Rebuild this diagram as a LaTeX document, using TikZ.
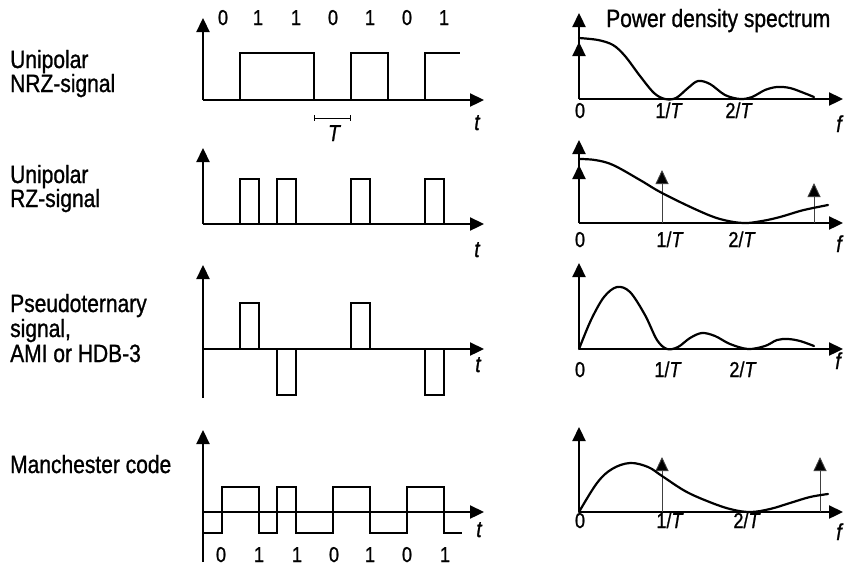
\documentclass[tikz,border=0pt]{standalone}
\usepackage{fontspec}
\setmainfont{Liberation Sans}[FakeStretch=0.84,FakeBold=1]
\usetikzlibrary{arrows.meta}
\begin{document}
\begin{tikzpicture}[x=1pt,y=-1pt,
  ax/.style={line width=2.3pt,-{Triangle[width=13pt,length=14pt]}},
  sig/.style={line width=2pt,line join=miter},
  dl/.style={line width=0.9pt,draw=black!75,-{Triangle[width=13pt,length=14pt,fill=black]}},
  psd/.style={line width=2.2pt,line cap=round},
  lbl/.style={font=\fontsize{25}{26}\selectfont,anchor=base west,inner sep=0pt},
  num/.style={font=\fontsize{21.5}{22}\selectfont,anchor=base,inner sep=0pt},
  var/.style={font=\fontsize{23}{24}\selectfont\itshape,anchor=base,inner sep=0pt}]
\useasboundingbox (0,0) rectangle (848,566);

% ---------- left labels ----------
\node[lbl] (l1a) at (10,68) {Unipolar};
\node[lbl] (l1b) at (10,92) {NRZ-signal};
\node[lbl] (l2a) at (10,183) {Unipolar};
\node[lbl] (l2b) at (10,207) {RZ-signal};
\node[lbl] (l3a) at (10,312) {Pseudoternary};
\node[lbl] (l3b) at (10,337) {signal,};
\node[lbl] (l3c) at (10,362) {AMI or HDB-3};
\node[lbl] (l4a) at (10,473) {Manchester code};
\node[lbl] (pds) at (606,27) {Power density spectrum};

% ---------- row 1: NRZ ----------
\draw[ax] (203,100) -- (203,18);
\draw[ax] (203,100) -- (484,100);
\draw[sig] (240,100) -- (240,53) -- (314,53) -- (314,100);
\draw[sig] (351,100) -- (351,53) -- (388,53) -- (388,100);
\draw[sig] (425,100) -- (425,53) -- (460,53);
\foreach \x/\b [count=\i] in {223/0,258/1,296/1,333/0,370/1,407/0,444/1}
  \node[num] (b\i) at (\x,25) {\b};
\draw[line width=1pt] (314,115) -- (314,121) (314,118) -- (350,118) (350,115) -- (350,121);
\node[var] (Tm) at (334,141) {T};
\node[var] (t1) at (477,130) {t};

% ---------- row 2: RZ ----------
\draw[ax] (203,224) -- (203,148);
\draw[ax] (203,224) -- (484,224);
\foreach \x in {240,277,351,425}
  \draw[sig] (\x,224) -- (\x,179) -- (\x+19,179) -- (\x+19,224);
\node[var] (t2) at (477,257) {t};

% ---------- row 3: AMI ----------
\draw[ax] (203,398) -- (203,265);
\draw[ax] (203,349) -- (484,349);
\draw[sig] (240,349) -- (240,303) -- (259,303) -- (259,349);
\draw[sig] (277,349) -- (277,395) -- (296,395) -- (296,349);
\draw[sig] (351,349) -- (351,303) -- (370,303) -- (370,349);
\draw[sig] (425,349) -- (425,395) -- (444,395) -- (444,349);
\node[var] (t3) at (478,372) {t};

% ---------- row 4: Manchester ----------
\draw[ax] (203,562) -- (203,430);
\draw[ax] (203,512) -- (484,512);
\draw[sig] (203,533) -- (221.5,533) -- (221.5,487) -- (258.5,487) -- (258.5,533)
  -- (277,533) -- (277,487) -- (295.5,487) -- (295.5,533) -- (332.5,533)
  -- (332.5,487) -- (369.5,487) -- (369.5,533) -- (406.5,533) -- (406.5,487)
  -- (443.5,487) -- (443.5,533) -- (462,533);
\foreach \x/\b [count=\i] in {221/0,259/1,297/1,334/0,370/1,407/0,445/1}
  \node[num] (c\i) at (\x,562) {\b};
\node[var] (t4) at (479,537) {t};

% ---------- spectra ----------
% row 1
\draw[ax] (579,99) -- (579,13);
\draw[ax] (579,99) -- (843,99);
\draw[dl,line width=2.3pt,draw=black] (579,99) -- (579,42);
\draw[psd] plot[smooth,tension=0.55] coordinates {(579,38) (598,40) (613,45) (625,56) (640,76) (654,93) (665,99) (676,98) (688,88) (698,81) (710,84) (725,95) (740,99) (752,97) (765,90) (777,87) (790,88) (804,93) (814,97)};
\node[num] (s1a) at (580,118) {0};
\node[num] (s1b) at (669,118) {1/\textit{T}};
\node[num] (s1c) at (739,118) {2/\textit{T}};
\node[var] (f1) at (839,132) {f};

% row 2
\draw[ax] (579,223) -- (579,140);
\draw[ax] (579,223) -- (843,223);
\draw[dl,line width=2.3pt,draw=black] (579,223) -- (579,165);
\draw[dl] (662,223) -- (662,170);
\draw[dl] (814,223) -- (814,183);
\draw[psd] plot[smooth,tension=0.6] coordinates {(579,159) (595,160) (613,165) (640,180) (662,193) (697,210) (720,219) (743,223) (762,221) (780,217) (800,211) (813,208) (828,205)};
\node[num] (s2a) at (580,247) {0};
\node[num] (s2b) at (670,247) {1/\textit{T}};
\node[num] (s2c) at (742,247) {2/\textit{T}};
\node[var] (f2) at (839,252) {f};

% row 3
\draw[ax] (579,349) -- (579,263);
\draw[ax] (579,349) -- (843,349);
\draw[psd] plot[smooth,tension=0.55] coordinates {(579,349) (591,320) (604,297) (617,287) (630,292) (645,315) (657,340) (667,349) (678,347) (690,338) (702,333) (715,336) (730,344) (748,349) (765,346) (777,340) (788,339) (800,341) (814,346)};
\node[num] (s3a) at (580,377) {0};
\node[num] (s3b) at (668,377) {1/\textit{T}};
\node[num] (s3c) at (743,377) {2/\textit{T}};
\node[var] (f3) at (838,369) {f};

% row 4
\draw[ax] (579,512) -- (579,427);
\draw[ax] (579,512) -- (843,512);
\draw[dl] (662,512) -- (662,457);
\draw[dl] (820,512) -- (820,457);
\draw[psd] plot[smooth,tension=0.6] coordinates {(579,512) (597,483) (612,469) (630,463) (648,467) (662,476) (685,491) (707,501) (730,509) (750,512) (770,509) (790,503) (810,497) (828,494)};
\node[num] (s4a) at (580,528) {0};
\node[num] (s4b) at (670,528) {1/\textit{T}};
\node[num] (s4c) at (747,528) {2/\textit{T}};
\node[var] (f4) at (839,540) {f};
\end{tikzpicture}
\end{document}
